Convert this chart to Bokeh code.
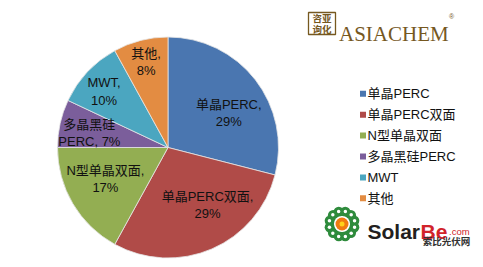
import numpy as np
from bokeh.plotting import figure
from bokeh.models import Range1d
from bokeh.core.properties import value
from bokeh.embed import file_html
from bokeh.resources import INLINE

# ---- data ----
categories = ["单晶PERC", "单晶PERC双面", "N型单晶双面", "多晶黑硅PERC", "MWT", "其他"]
shares = [29, 29, 17, 7, 10, 8]
label_texts = ["单晶PERC,\n29%", "单晶PERC双面,\n29%", "N型单晶双面,\n17%",
               "多晶黑硅\nPERC, 7%", "MWT,\n10%", "其他,\n8%"]
colors = ["#4a76b0", "#b04b48", "#93ae52", "#7b5e9b", "#4ba6c0", "#e38c42"]

# ---- layout (styles / positions) ----
W, H = 483, 267
CX, CY, R = 167.5, 147, 110.5      # pie centre (pixels from top-left) and radius
label_r = [70, 70, 70, 80, 85, 88]   # label distance from centre
label_nudge = [8, -11, 4, -2, -2, 0]  # degrees of angle nudge (Excel best fit)

FONT = "Liberation Sans, Arial, Noto Sans CJK SC, sans-serif"

def Y(py):
    return H - py

p = figure(width=W, height=H, x_range=Range1d(0, W), y_range=Range1d(0, H),
           output_backend="svg", toolbar_location=None, min_border=0)
p.axis.visible = False
p.grid.visible = False
p.outline_line_color = None
p.background_fill_color = "white"
p.border_fill_color = "white"

# ---- pie ----
vals = np.array(shares, dtype=float)
frac = vals / vals.sum()
cum_end = np.cumsum(frac)
cum_start = cum_end - frac
start_ang = np.pi / 2 - 2 * np.pi * cum_end
end_ang = np.pi / 2 - 2 * np.pi * cum_start
p.wedge(x=CX, y=Y(CY), radius=R, radius_units="screen",
        start_angle=start_ang, end_angle=end_ang, direction="anticlock",
        fill_color=colors, line_color="#e6e6e6", line_width=0.8)

# data labels
mid = 2 * np.pi * (cum_start + frac / 2) + np.radians(label_nudge)  # clockwise from top
lx = CX + np.array(label_r) * np.sin(mid)
ly = CY - np.array(label_r) * np.cos(mid)
p.text(x=lx, y=Y(ly), text=label_texts, text_align="center", text_baseline="middle",
       text_font=value(FONT), text_font_size="13px", text_color="#111111",
       text_line_height=1.15)

# ---- legend ----
leg_x, leg_y0, leg_dy = 362.5, 93.3, 20.9
ly_leg = leg_y0 + leg_dy * np.arange(len(categories))
p.rect(x=leg_x, y=Y(ly_leg), width=6, height=6, width_units="screen", height_units="screen",
       fill_color=colors, line_color=None)
p.text(x=leg_x + 4.5, y=Y(ly_leg), text=categories, text_align="left", text_baseline="middle",
       text_font=value(FONT), text_font_size="13px", text_color="#111111")

# ---- ASIACHEM logo ----
gold = "#76581f"
p.rect(x=321.5, y=Y(23), width=27, height=22, fill_color=None, line_color=gold, line_width=1.3)
p.text(x=[321.5, 321.5], y=[Y(17.5), Y(28.5)], text=["咨亚", "询化"], text_align="center",
       text_baseline="middle", text_font=value("Noto Sans CJK SC"), text_font_size="9.5px",
       text_color=gold, text_font_style="bold")
p.text(x=[338.5], y=[Y(33)], text=["ASIACHEM"], text_align="left", text_baseline="alphabetic",
       text_font=value("Liberation Serif"), text_font_size="21px", text_color=gold)
p.text(x=[451], y=[Y(16)], text=["®"], text_align="center", text_baseline="middle",
       text_font=value("Liberation Sans"), text_font_size="7px", text_color=gold)

# ---- SolarBe logo ----
fx, fy = 341.5, 223.5
pet = np.radians(np.arange(12) * 30 + 15)
p.scatter(x=fx + 12.5 * np.cos(pet), y=Y(fy) + 12.5 * np.sin(pet), size=10.5,
          fill_color="#2e8b3c", line_color=None)
p.scatter(x=fx + 13 * np.cos(pet), y=Y(fy) + 13 * np.sin(pet), size=3.5,
          fill_color="white", line_color=None)
p.scatter(x=[fx], y=[Y(fy)], size=16, fill_color="white", line_color=None)
p.scatter(x=[fx], y=[Y(fy)], size=13, fill_color="#f07a10", line_color=None)
p.scatter(x=[fx], y=[Y(fy)], size=5, fill_color="#ffd21a", line_color=None)
p.text(x=[367], y=[Y(231)], text=["Solar"], text_align="left", text_baseline="alphabetic",
       text_font=value("Liberation Sans"), text_font_style="bold", text_font_size="21px",
       text_color="#231f20")
p.text(x=[420], y=[Y(231)], text=["Be"], text_align="left", text_baseline="alphabetic",
       text_font=value("Liberation Sans"), text_font_style="bold", text_font_size="21px",
       text_color="#d1232a")
p.text(x=[448.5], y=[Y(231)], text=[".com"], text_align="left", text_baseline="alphabetic",
       text_font=value("Liberation Sans"), text_font_size="9.5px", text_color="#d1232a")
p.text(x=[446], y=[Y(240.5)], text=["索比光伏网"], text_align="center", text_baseline="middle",
       text_font=value("Noto Sans CJK SC"), text_font_style="bold", text_font_size="9.5px",
       text_color="#333333")

open("out.html", "w").write(file_html(p, INLINE))
